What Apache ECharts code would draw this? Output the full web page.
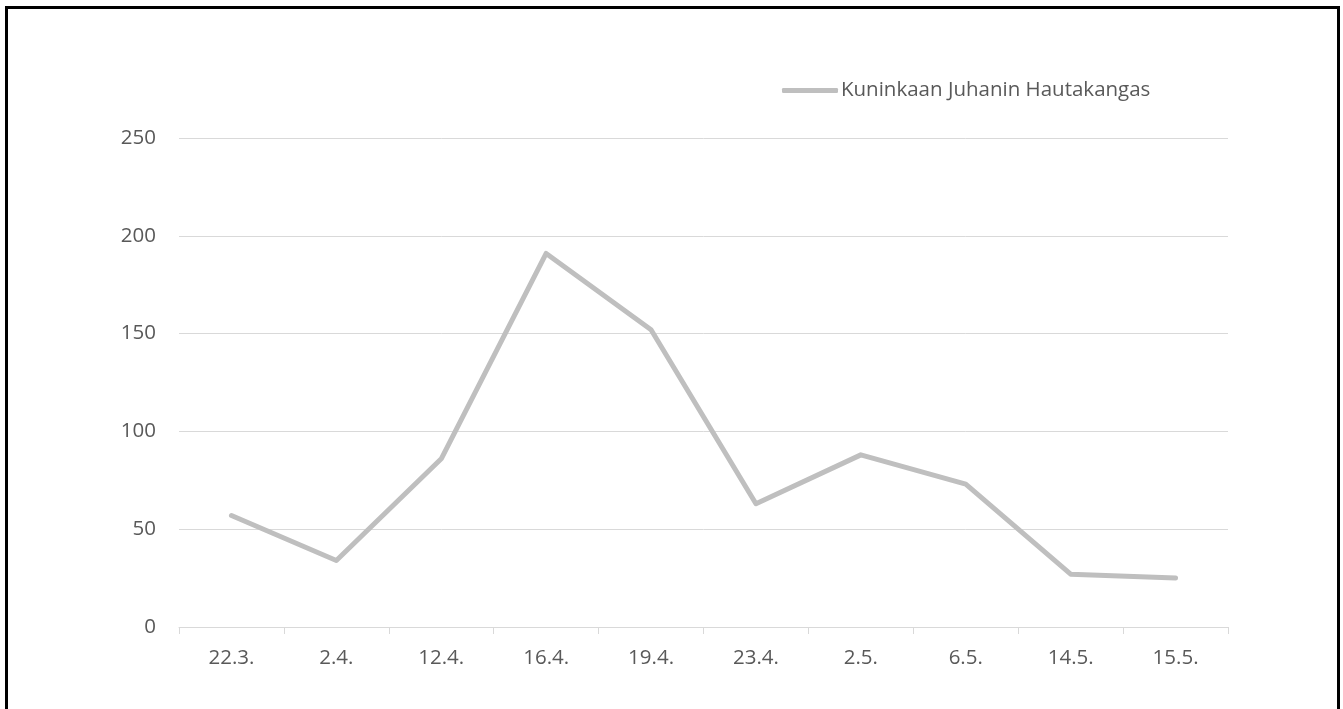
<!DOCTYPE html>
<html>
<head>
<meta charset="utf-8">
<script src="https://cdn.jsdelivr.net/npm/echarts@6/dist/echarts.min.js"></script>
<style>
  html, body { margin: 0; padding: 0; background: #fff; }
  #chart { width: 1343px; height: 709px; }
</style>
</head>
<body>
<div id="chart"></div>
<script>
// Dates of the observations
const categories = ['22.3.', '2.4.', '12.4.', '16.4.', '19.4.', '23.4.', '2.5.', '6.5.', '14.5.', '15.5.'];
// Counts per date
const seriesName = 'Kuninkaan Juhanin Hautakangas';
const seriesValues = [57, 34, 86, 191, 152, 63, 88, 73, 27, 25];
// Value axis range
const yMin = 0;
const yMax = 250;
const yStep = 50;

const textColor = '#595959';
const gridColor = '#d9d9d9';
const lineColor = '#bfbfbf';
const fontFamily = '"Open Sans", "Noto Sans", sans-serif';
const fontSize = 20.5;

const chart = echarts.init(document.getElementById('chart'), null, { renderer: 'canvas' });

chart.setOption({
  animation: false,
  backgroundColor: '#ffffff',
  textStyle: { fontFamily: fontFamily },
  graphic: [{
    type: 'rect',
    shape: { x: 6.5, y: 7.5, width: 1332, height: 730 },
    style: { fill: 'none', stroke: '#000000', lineWidth: 3 },
    silent: true,
    z: 100
  }],
  grid: { left: 179, right: 115, top: 138, bottom: 82, containLabel: false },
  legend: {
    left: 782,
    top: 80,
    padding: 0,
    itemWidth: 56,
    itemHeight: 5,
    icon: 'roundRect',
    itemGap: 10,
    textStyle: { color: textColor, fontSize: fontSize, fontFamily: fontFamily, padding: [0, 0, 0, -2] },
    data: [{ name: seriesName, itemStyle: { color: lineColor } }]
  },
  xAxis: {
    type: 'category',
    data: categories,
    boundaryGap: true,
    axisLine: { show: true, lineStyle: { color: gridColor, width: 1 } },
    axisTick: { show: true, length: 7, alignWithLabel: false, lineStyle: { color: gridColor } },
    axisLabel: { color: textColor, fontSize: fontSize, fontFamily: fontFamily, margin: 21 },
    splitLine: { show: false }
  },
  yAxis: {
    type: 'value',
    min: yMin,
    max: yMax,
    interval: yStep,
    axisLine: { show: false },
    axisTick: { show: false },
    axisLabel: { color: textColor, fontSize: fontSize, fontFamily: fontFamily, margin: 23 },
    splitLine: { show: true, lineStyle: { color: gridColor, width: 1 } }
  },
  series: [{
    name: seriesName,
    type: 'line',
    data: seriesValues,
    showSymbol: false,
    symbol: 'none',
    lineStyle: { color: lineColor, width: 5, cap: 'round', join: 'round' },
    itemStyle: { color: lineColor }
  }]
});
</script>
</body>
</html>
